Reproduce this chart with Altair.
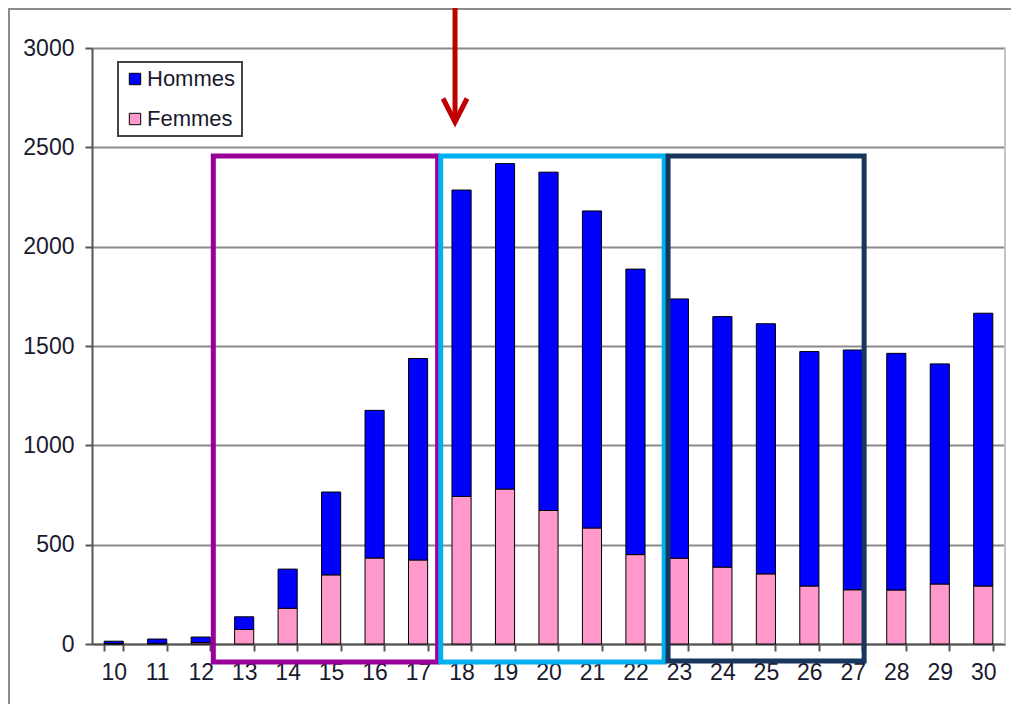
import altair as alt
import pandas as pd

# ---- data ----
ages = [str(a) for a in range(10, 31)]
femmes = [2, 3, 7, 73, 180, 348, 433, 423, 743, 780, 672, 584, 450, 432, 387, 353, 292, 273, 272, 302, 292]
hommes = [12, 22, 28, 64, 197, 417, 743, 1014, 1542, 1638, 1703, 1596, 1437, 1305, 1261, 1259, 1180, 1207, 1191, 1108, 1373]
series = ["Hommes", "Femmes"]
y_ticks = [0, 500, 1000, 1500, 2000, 2500, 3000]

rows = []
for a, h, f in zip(ages, hommes, femmes):
    rows.append({"age": a, "sexe": "Femmes", "n": f, "ord": 0})
    rows.append({"age": a, "sexe": "Hommes", "n": h, "ord": 1})
df = pd.DataFrame(rows)

# ---- annotation overlays (age axis positions, value axis positions) ----
boxes = pd.DataFrame({
    "x": [12.29, 17.52, 22.75],
    "x2": [17.45, 22.66, 27.26],
    "y": [-90, -90, -85],
    "y2": [2457, 2457, 2457],
    "c": ["#990099", "#00B0F0", "#17375E"],
})
arrow = pd.DataFrame({"x": [17.85], "y": [3205], "y2": [2632], "tip": [2628]})

W, H = 913, 596
FONT = "Liberation Sans"
yscale = alt.Scale(domain=[0, 3000], nice=False, zero=True)
xq = alt.Scale(domain=[9.5, 30.5], nice=False, zero=False)

yaxis = alt.Axis(values=y_ticks, format="d", grid=True, gridColor="#8a8a8a", gridWidth=2,
                 labelFontSize=23, labelColor="#1a1a2e", labelPadding=11,
                 domainColor="#555", domainWidth=2,
                 tickColor="#555", tickWidth=2, tickSize=7)

bars = alt.Chart(df).mark_bar(stroke="black", strokeWidth=1).encode(
    x=alt.X("age:N", sort=ages, title=None,
            scale=alt.Scale(paddingInner=0.56, paddingOuter=0.28),
            axis=alt.Axis(labelAngle=0, tickBand="extent", grid=False,
                          labelFontSize=23, labelColor="#1a1a2e", labelPadding=10,
                          domainColor="#555", domainWidth=2,
                          tickColor="#555", tickWidth=2, tickSize=7)),
    y=alt.Y("n:Q", stack="zero", scale=yscale, title=None, axis=yaxis),
    color=alt.Color("sexe:N",
                    scale=alt.Scale(domain=series, range=["#0000FF", "#FF99CC"]),
                    legend=alt.Legend(title=None, orient="none", legendX=26, legendY=14,
                                      direction="vertical", symbolType="square",
                                      symbolSize=130, symbolStrokeColor="black",
                                      symbolStrokeWidth=1, labelFontSize=22,
                                      labelColor="#1a1a2e", labelOffset=1, rowPadding=18,
                                      padding=6)),
    order=alt.Order("ord:Q"),
)

rects = alt.Chart(boxes).mark_rect(filled=False, strokeWidth=5).encode(
    x=alt.X("x:Q", scale=xq, axis=None),
    x2="x2:Q",
    y=alt.Y("y:Q", scale=yscale, title=None),
    y2="y2:Q",
    stroke=alt.Stroke("c:N", scale=None),
)

shaft = alt.Chart(arrow).mark_rule(color="#C00000", strokeWidth=5).encode(
    x=alt.X("x:Q", scale=xq, axis=None),
    y=alt.Y("y:Q", scale=yscale, title=None),
    y2="y2:Q",
)
head = alt.Chart(arrow).mark_point(shape="M-1,-1.95L0,0L1,-1.95", filled=False, size=576,
                                   strokeWidth=5, color="#C00000", opacity=1,
                                   strokeJoin="miter").encode(
    x=alt.X("x:Q", scale=xq, axis=None),
    y=alt.Y("tip:Q", scale=yscale, title=None),
)

right_border = alt.Chart(df).mark_rule(color="#c4c4c4", strokeWidth=2).encode(
    x=alt.value(W), y=alt.value(0), y2=alt.value(H))
frame_top = alt.Chart(df).mark_rule(color="#8c8c8c", strokeWidth=2).encode(
    x=alt.value(-84), x2=alt.value(W + 10), y=alt.value(-39))
frame_left = alt.Chart(df).mark_rule(color="#8c8c8c", strokeWidth=2).encode(
    x=alt.value(-83), y=alt.value(-40), y2=alt.value(H + 70))

chart = alt.layer(bars, right_border, frame_top, frame_left, rects, shaft, head).resolve_scale(
    x="independent"
).properties(
    width=W, height=H,
    padding={"left": 84, "top": 40, "right": 6, "bottom": 60},
    autosize=alt.AutoSizeParams(type="none"),
).configure(font=FONT).configure_view(stroke=None).configure_legend(
    strokeColor="#444", strokeWidth=2
)

chart.save("out.html", embed_options={"renderer": "svg", "actions": False})
